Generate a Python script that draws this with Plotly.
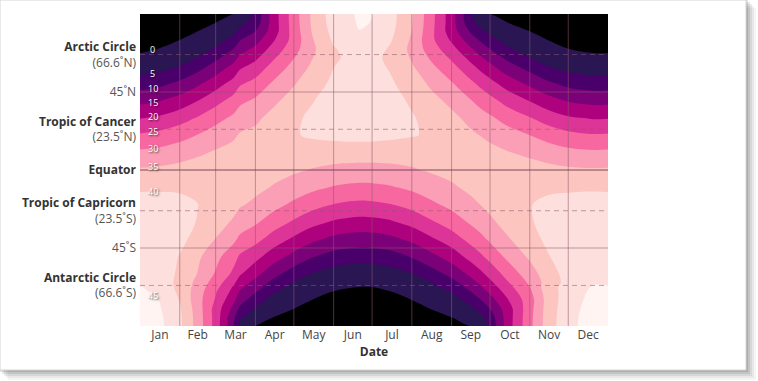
import numpy as np
import pandas as pd
import plotly.graph_objects as go

# ---------------- data ----------------
dates = ["2019-01-01", "2019-01-15", "2019-02-01", "2019-02-15", "2019-03-01",
         "2019-03-15", "2019-03-20", "2019-04-01", "2019-04-15", "2019-05-01",
         "2019-05-15", "2019-06-01", "2019-06-21", "2019-07-01", "2019-07-15",
         "2019-08-01", "2019-08-15", "2019-09-01", "2019-09-15", "2019-09-23",
         "2019-10-01", "2019-10-15", "2019-11-01", "2019-11-15", "2019-12-01",
         "2019-12-21", "2020-01-01"]

latitudes = [-90, -85, -80, -75, -70, -67.5, -65, -60, -50, -40, -30, -20, -10, 0,
             10, 20, 30, 40, 50, 60, 65, 67.5, 70, 75, 80, 85, 90]

# daily insolation (MJ/m^2/day), one row per latitude (south -> north)
lat_m90 = [48.0, 46.5, 41.0, 33.0, 23.0, 10.0, 3.0, 0, 0, 0, 0, 0, 0, 0, 0, 0, 0, 0, 0,
           0, 6.57, 17.74, 28.58, 37.5, 43.5, 47.5, 48.0]
lat_m85 = [47.8, 46.3, 40.9, 32.9, 23.0, 11.0, 6.0, 1.5, 0, 0, 0, 0, 0, 0, 0, 0, 0, 0,
           0.68, 3.24, 7.22, 17.67, 28.47, 37.4, 43.4, 47.4, 47.8]
lat_m80 = [47.3, 45.8, 40.5, 32.6, 23.0, 13.5, 9.0, 4.5, 0.5, 0, 0, 0, 0, 0, 0, 0, 0,
           0.32, 3.56, 6.46, 10.06, 17.80, 28.14, 37.2, 43.2, 47.0, 47.3]
lat_m75 = [46.5, 45.1, 39.8, 32.0, 24.5, 16.0, 12.0, 7.5, 3.0, 0.21, 0, 0, 0, 0, 0, 0,
           0.21, 2.61, 6.66, 9.63, 13.07, 19.82, 27.82, 37.0, 42.8, 46.5, 46.5]
lat_m70 = [45.8, 44.0, 39.0, 32.5, 25.5, 18.5, 14.5, 10.5, 5.8, 2.17, 0.36, 0, 0, 0, 0,
           0.36, 2.16, 5.42, 9.77, 12.72, 16.03, 22.23, 29.10, 37.5, 42.3, 46.0, 45.8]
lat_m67 = [45.3, 43.3, 38.8, 33.0, 26.5, 19.5, 16.0, 12.0, 7.2, 3.42, 1.23, 0.09, 0, 0,
           0.09, 1.22, 3.40, 6.88, 11.31, 14.24, 17.48, 23.45, 29.95, 38.0, 42.0, 45.5, 45.3]
lat_m65 = [44.3, 42.8, 38.8, 33.5, 27.5, 21.0, 17.5, 13.5, 8.6, 4.75, 2.30, 0.76, 0.25, 0.32,
           0.76, 2.29, 4.72, 8.37, 12.83, 15.72, 18.90, 24.66, 30.83, 37.2, 41.6, 44.5, 44.3]
lat_m60 = [44.0, 42.8, 39.2, 34.8, 29.5, 23.8, 20.5, 16.5, 11.6, 7.57, 4.79, 2.81, 1.99, 2.11,
           2.79, 4.76, 7.52, 11.35, 15.80, 18.60, 21.64, 27.00, 32.59, 37.8, 41.8, 44.2, 44.0]
lat_m50 = [44.26, 42.94, 39.78, 35.99, 31.46, 26.85, 24.27, 21.56, 17.31, 13.40, 10.39, 8.03,
           6.91, 7.08, 8.00, 10.32, 13.30, 17.17, 21.39, 23.91, 26.61, 31.19, 35.78, 39.59,
           42.81, 44.52, 44.26]
lat_m40 = [44.42, 43.50, 41.23, 38.39, 34.84, 31.07, 28.92, 26.55, 22.75, 19.09, 16.16, 13.75,
           12.57, 12.76, 13.70, 16.06, 18.96, 22.56, 26.34, 28.50, 30.80, 34.54, 38.16, 41.03,
           43.37, 44.64, 44.42]
lat_m30 = [43.72, 43.16, 41.71, 39.78, 37.22, 34.36, 32.69, 30.74, 27.56, 24.36, 21.72, 19.46,
           18.32, 18.50, 19.39, 21.58, 24.19, 27.33, 30.49, 32.22, 34.06, 36.90, 39.54, 41.51,
           43.03, 43.90, 43.72]
lat_m20 = [42.02, 41.79, 41.11, 40.07, 38.52, 36.61, 35.47, 34.00, 31.57, 28.99, 26.79, 24.84,
           23.82, 23.99, 24.75, 26.62, 28.79, 31.32, 33.73, 34.96, 36.29, 38.18, 39.83, 40.92,
           41.67, 42.15, 42.02]
lat_m10 = [39.28, 39.36, 39.41, 39.23, 38.67, 37.74, 37.18, 36.23, 34.66, 32.82, 31.19, 29.67,
           28.86, 28.97, 29.55, 30.99, 32.59, 34.38, 35.94, 36.63, 37.41, 38.33, 38.99, 39.23,
           39.25, 39.32, 39.28]
lat_0 = [35.57, 35.92, 36.64, 37.26, 37.67, 37.74, 37.75, 37.37, 36.71, 35.73, 34.76, 33.76,
         33.21, 33.27, 33.63, 34.54, 35.47, 36.42, 37.07, 37.20, 37.41, 37.35, 37.04, 36.47,
         35.82, 35.51, 35.57]
lat_p10 = [30.97, 31.56, 32.88, 34.23, 35.56, 36.59, 37.18, 37.37, 37.68, 37.61, 37.6, 37.5,
           37.5, 37.4, 37.3, 37.15, 37.34, 37.38, 37.07, 36.63, 36.27, 35.25, 34.03, 32.73,
           31.47, 30.85, 30.97]
lat_p20 = [25.64, 26.43, 28.24, 30.24, 32.40, 34.34, 35.47, 36.25, 37.7, 39.6, 40.6, 41.2,
           41.5, 41.4, 41.0, 40.3, 39.5, 37.4, 35.96, 34.96, 34.04, 32.12, 30.06, 28.11,
           26.35, 25.46, 25.64]
lat_p30 = [19.78, 20.71, 22.89, 25.40, 28.28, 31.04, 32.69, 34.02, 36.6, 39.4, 40.6, 41.6,
           42.0, 41.9, 41.4, 40.3, 39.0, 36.3, 33.75, 32.22, 30.77, 28.03, 25.25, 22.78,
           20.65, 19.58, 19.78]
lat_p40 = [13.64, 14.63, 17.04, 19.91, 23.34, 26.81, 28.92, 30.77, 33.96, 37.1, 39.8, 41.5,
           42.3, 42.1, 41.3, 39.5, 36.9, 33.68, 30.52, 28.50, 26.58, 23.14, 19.79, 16.96,
           14.59, 13.43, 13.64]
lat_p50 = [7.57, 8.54, 10.95, 13.97, 17.76, 21.78, 24.27, 26.59, 30.66, 34.51, 38.2, 40.8,
           42.0, 41.8, 40.6, 38.0, 34.27, 30.41, 26.37, 23.91, 21.59, 17.60, 13.89, 10.90,
           8.52, 7.38, 7.57]
lat_p60 = [2.26, 2.98, 5.05, 7.90, 11.74, 16.09, 18.88, 21.61, 26.54, 31.44, 35.70, 39.9,
           41.5, 41.2, 39.6, 35.48, 31.22, 26.33, 21.44, 18.60, 15.95, 11.64, 7.85, 5.03,
           2.98, 2.12, 2.26]
lat_p65 = [0.34, 0.81, 2.42, 4.96, 8.66, 13.06, 15.95, 18.88, 24.24, 29.74, 34.65, 39.5,
           41.25, 40.92, 39.3, 34.43, 29.53, 24.05, 18.73, 15.72, 12.95, 8.58, 4.93, 2.41,
           0.81, 0.26, 0.34]
lat_p67 = [0, 0.10, 1.29, 3.57, 7.12, 11.51, 14.45, 17.46, 23.05, 28.89, 34.21, 39.5,
           41.80, 41.39, 39.3, 33.99, 28.68, 22.87, 17.32, 14.24, 11.41, 7.06, 3.55, 1.29,
           0.10, 0, 0]
lat_p70 = [0, 0, 0.38, 2.26, 5.60, 9.95, 12.91, 16.02, 21.85, 28.07, 33.90, 39.66,
           42.51, 42.10, 39.51, 33.69, 27.88, 21.67, 15.89, 12.72, 9.86, 5.56, 2.25, 0.38,
           0, 0, 0]
lat_p75 = [0, 0, 0, 0.22, 2.71, 6.78, 9.77, 13.05, 19.48, 26.84, 34.48, 40.77,
           43.70, 43.27, 40.61, 34.26, 26.65, 19.32, 12.95, 9.63, 6.72, 2.68, 0.22, 0,
           0, 0, 0]
lat_p80 = [0, 0, 0, 0, 0.33, 3.62, 6.55, 10.05, 17.50, 27.15, 35.15, 41.57,
           44.9, 44.12, 41.41, 34.93, 26.96, 17.35, 9.97, 6.46, 3.59, 0.33, 0, 0,
           0, 0, 0]
lat_p85 = [0, 0, 0, 0, 0, 0.69, 3.29, 7.22, 17.37, 27.46, 35.56, 42.3,
           45.4, 44.9, 41.89, 35.34, 27.27, 17.23, 7.16, 3.24, 0.68, 0, 0, 0,
           0, 0, 0]
lat_p90 = [0, 0, 0, 0, 0, 0, 0, 6.56, 17.44, 27.57, 35.70, 42.5,
           45.6, 45.1, 42.04, 35.47, 27.37, 17.30, 6.51, 0, 0, 0, 0, 0,
           0, 0, 0]

insolation = [lat_m90, lat_m85, lat_m80, lat_m75, lat_m70, lat_m67, lat_m65, lat_m60,
              lat_m50, lat_m40, lat_m30, lat_m20, lat_m10, lat_0, lat_p10, lat_p20,
              lat_p30, lat_p40, lat_p50, lat_p60, lat_p65, lat_p67, lat_p70, lat_p75,
              lat_p80, lat_p85, lat_p90]

levels = [0, 5, 10, 15, 20, 25, 30, 35, 40, 45]

lat_tick_vals = [66.6, 45, 23.5, 0, -23.5, -45, -66.6]
lat_tick_names = ["Arctic Circle", "", "Tropic of Cancer", "Equator",
                  "Tropic of Capricorn", "", "Antarctic Circle"]
lat_tick_subs = ["(66.6˚N)", "45˚N", "(23.5˚N)", "", "(23.5˚S)", "45˚S", "(66.6˚S)"]

month_labels = ["Jan", "Feb", "Mar", "Apr", "May", "Jun",
                "Jul", "Aug", "Sep", "Oct", "Nov", "Dec"]
year = 2019

# ---------------- styling ----------------
band_colors = ["#000000", "#2a1652", "#49006a", "#7a0177", "#ae017e", "#dd3497",
               "#f768a1", "#fa9fb5", "#fcc5c0", "#fde0dd", "#fff4f1"]
n = len(band_colors)
colorscale = []
for i, c in enumerate(band_colors):
    lo = max(0.0, (i - 0.5) / (n - 1))
    hi = min(1.0, (i + 0.5) / (n - 1))
    colorscale.append([lo, c])
    colorscale.append([hi, c])

FONT = "Lucida Grande, Open Sans, DejaVu Sans, sans-serif"

z = np.array(insolation, dtype=float)
x_dt = pd.to_datetime(dates)

fig = go.Figure()
fig.add_trace(go.Contour(
    x=dates, y=latitudes, z=z,
    colorscale=colorscale, showscale=False,
    contours=dict(start=levels[0], end=levels[-1], size=levels[1] - levels[0],
                  coloring="fill", showlines=False),
    line=dict(width=0, smoothing=1.0),
    hoverinfo="skip",
))

# y tick labels
ytext = []
for name, sub in zip(lat_tick_names, lat_tick_subs):
    if name and sub:
        ytext.append(f"<b>{name}</b><br><span style='color:#555'>{sub}</span>")
    elif name:
        ytext.append(f"<b>{name}</b>")
    else:
        ytext.append(f"<span style='color:#555'>{sub}</span>")

# month ticks at mid-month, grid at month starts
month_starts = pd.date_range(f"{year}-01-01", periods=13, freq="MS")
mids = [month_starts[i] + (month_starts[i + 1] - month_starts[i]) / 2 for i in range(12)]

shapes = []
# card shadow / border (decoration)
W, H = 758, 381
L, R, T, B = 140, 150, 14, 55
pw, ph = W - L - R, H - T - B
def px(xp):
    return (xp - L) / pw
def py(yp):
    return (H - B - yp) / ph
for k, a in [(10, 0.04), (8, 0.05), (6, 0.07), (4, 0.09), (2, 0.11)]:
    shapes.append(dict(type="rect", xref="paper", yref="paper", layer="below",
                       x0=px(k - 2), x1=px(746 + k), y0=py(370 + k), y1=py(k - 2),
                       fillcolor=f"rgba(0,0,0,{a})", line=dict(width=0)))
shapes.append(dict(type="rect", xref="paper", yref="paper", layer="below",
                   x0=px(0), x1=px(746), y0=py(370), y1=py(0),
                   fillcolor="white", line=dict(color="#d4d4d4", width=1)))

grid_col = "rgba(140,90,105,0.55)"
for ms in month_starts[1:12]:
    shapes.append(dict(type="line", xref="x", yref="paper", layer="above",
                       x0=ms, x1=ms, y0=0, y1=1,
                       line=dict(color=grid_col, width=1)))
for v, name in zip(lat_tick_vals, lat_tick_names):
    if v == 0:
        ln = dict(color="rgba(100,55,70,0.85)", width=1)
    elif name:
        ln = dict(color=grid_col, width=1, dash="5px,4px")
    else:
        ln = dict(color=grid_col, width=1)
    shapes.append(dict(type="line", xref="paper", yref="y", layer="above",
                       x0=0, x1=1, y0=v, y1=v, line=ln))

# contour labels along left edge (interpolated from data column at label date)
label_date = pd.Timestamp(f"{year}-01-11")
xn = (x_dt - x_dt[0]).days.values.astype(float)
tn = float((label_date - x_dt[0]).days)
col = np.array([np.interp(tn, xn, row) for row in z])
lat_arr = np.array(latitudes, dtype=float)
annotations = []
for lev in levels:
    thr = lev + 0.01
    found = None
    for i in range(len(lat_arr) - 1, 0, -1):
        a, b = col[i], col[i - 1]
        if (a - thr) * (b - thr) < 0:
            t = (thr - a) / (b - a)
            found = lat_arr[i] + t * (lat_arr[i - 1] - lat_arr[i])
            break
    if found is None:
        continue
    annotations.append(dict(x=label_date, y=found, xref="x", yref="y", text=str(lev),
                            showarrow=False,
                            font=dict(family=FONT, size=9, color="white",
                                      shadow="1px 1px 2px rgba(0,0,0,0.7)")))

fig.update_layout(
    width=W, height=H,
    margin=dict(l=L, r=R, t=T, b=B, pad=0),
    paper_bgcolor="white", plot_bgcolor="white",
    font=dict(family=FONT, size=12, color="#333"),
    showlegend=False,
    shapes=shapes,
    annotations=annotations,
    xaxis=dict(type="date", range=[f"{year}-01-01", f"{year + 1}-01-01"],
               tickmode="array", tickvals=mids, ticktext=month_labels,
               showgrid=False, zeroline=False, showline=False, ticks="",
               tickfont=dict(family=FONT, size=12, color="#444"),
               title=dict(text="<b>Date</b>", font=dict(family=FONT, size=12, color="#333"),
                          standoff=4)),
    yaxis=dict(range=[-90, 90], tickmode="array", tickvals=lat_tick_vals, ticktext=ytext,
               showgrid=False, zeroline=False, showline=False, ticks="",
               ticklabelstandoff=3,
               tickfont=dict(family=FONT, size=12, color="#333")),
)

fig.write_html("out.html", config={"displayModeBar": False},
               post_script="document.body.style.margin='0';")
